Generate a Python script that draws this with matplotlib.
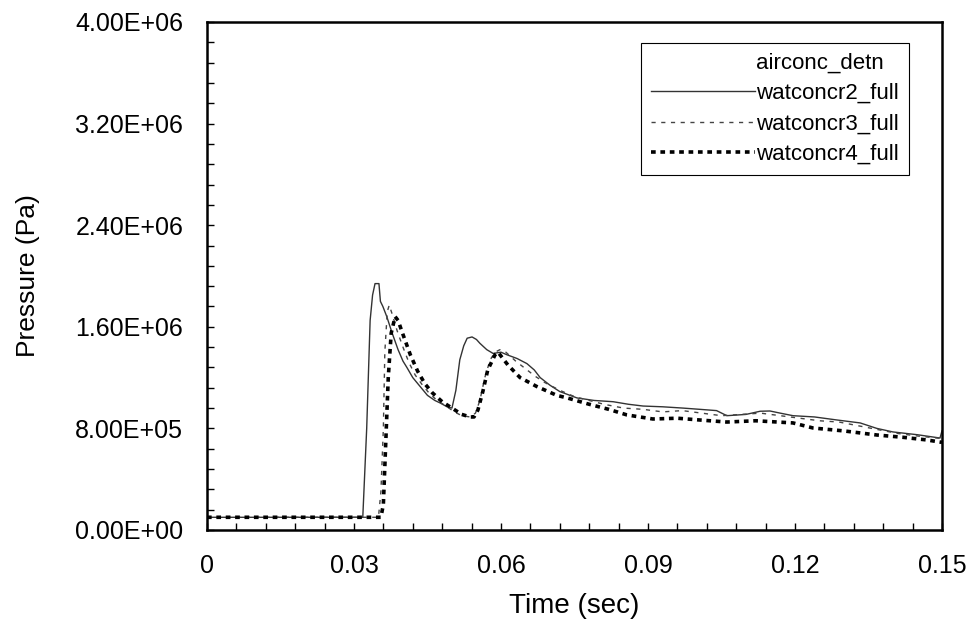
import numpy as np
import matplotlib
matplotlib.use('Agg')
import matplotlib.pyplot as plt
from matplotlib.ticker import MultipleLocator, FuncFormatter

plt.rcParams['font.family'] = ['Liberation Sans', 'DejaVu Sans']

# watconcr2_full (solid)
t2 = [0, 0.0318, 0.0326, 0.0333, 0.0338, 0.0343, 0.0351, 0.0354, 0.0359, 0.0367,
      0.0378, 0.0390, 0.0400, 0.0408, 0.0420, 0.0435, 0.0450, 0.0465, 0.0476, 0.0490,
      0.0500, 0.0508, 0.0516, 0.0524, 0.0531, 0.0541, 0.0550, 0.0557, 0.0571, 0.0584,
      0.0600, 0.0612, 0.0633, 0.0653, 0.0668, 0.0680, 0.0700, 0.0720, 0.0755, 0.0790,
      0.0829, 0.0860, 0.0890, 0.0930, 0.0971, 0.1006, 0.1040, 0.1061, 0.1100, 0.1129,
      0.1149, 0.1170, 0.1196, 0.1240, 0.1286, 0.1333, 0.1367, 0.1400, 0.1450, 0.1496,
      0.1500]
p2 = [1.0e5, 1.0e5, 8.0e5, 1.65e6, 1.85e6, 1.94e6, 1.94e6, 1.80e6, 1.76e6, 1.68e6,
      1.55e6, 1.42e6, 1.33e6, 1.28e6, 1.20e6, 1.13e6, 1.06e6, 1.02e6, 1.00e6, 0.97e6,
      0.96e6, 1.10e6, 1.34e6, 1.45e6, 1.51e6, 1.52e6, 1.50e6, 1.47e6, 1.42e6, 1.39e6,
      1.40e6, 1.38e6, 1.35e6, 1.31e6, 1.26e6, 1.20e6, 1.14e6, 1.09e6, 1.04e6, 1.02e6,
      1.01e6, 0.99e6, 0.976e6, 0.97e6, 0.96e6, 0.95e6, 0.94e6, 0.90e6, 0.91e6, 0.935e6,
      0.937e6, 0.92e6, 0.90e6, 0.89e6, 0.866e6, 0.843e6, 0.80e6, 0.772e6, 0.75e6, 0.724e6,
      0.78e6]

# watconcr3_full (thin dashed)
t3 = [0, 0.0350, 0.0355, 0.0360, 0.0363, 0.0368, 0.0372, 0.0378, 0.0388, 0.0400,
      0.0412, 0.0425, 0.0440, 0.0455, 0.0470, 0.0490, 0.0505, 0.0520, 0.0537, 0.0548,
      0.0557, 0.0567, 0.0578, 0.0588, 0.0598, 0.0610, 0.0630, 0.0650, 0.0670, 0.0690,
      0.0720, 0.0750, 0.0780, 0.0810, 0.0850, 0.0890, 0.0930, 0.0970, 0.1010, 0.1050,
      0.1090, 0.1130, 0.1170, 0.1210, 0.1250, 0.1290, 0.1330, 0.1370, 0.1410, 0.1450,
      0.1500]
p3 = [1.0e5, 1.0e5, 3.0e5, 8.0e5, 1.40e6, 1.72e6, 1.77e6, 1.70e6, 1.57e6, 1.44e6,
      1.32e6, 1.22e6, 1.14e6, 1.07e6, 1.02e6, 0.97e6, 0.93e6, 0.90e6, 0.89e6, 0.92e6,
      1.02e6, 1.20e6, 1.34e6, 1.40e6, 1.42e6, 1.40e6, 1.33e6, 1.27e6, 1.21e6, 1.16e6,
      1.10e6, 1.05e6, 1.02e6, 0.99e6, 0.96e6, 0.95e6, 0.93e6, 0.94e6, 0.92e6, 0.90e6,
      0.91e6, 0.92e6, 0.90e6, 0.88e6, 0.86e6, 0.85e6, 0.82e6, 0.79e6, 0.76e6, 0.74e6,
      0.72e6]

# watconcr4_full (thick dashed)
t4 = [0, 0.0355, 0.0360, 0.0365, 0.0370, 0.0376, 0.0384, 0.0390, 0.0400, 0.0415,
      0.0430, 0.0445, 0.0460, 0.0480, 0.0500, 0.0520, 0.0537, 0.0545, 0.0553, 0.0563,
      0.0573, 0.0588, 0.0594, 0.0614, 0.0639, 0.0673, 0.0714, 0.0735, 0.0780, 0.0820,
      0.0857, 0.0910, 0.0960, 0.1006, 0.1061, 0.1120, 0.1196, 0.1237, 0.1300, 0.1367,
      0.1420, 0.1469, 0.1500]
p4 = [1.0e5, 1.0e5, 2.0e5, 7.0e5, 1.20e6, 1.55e6, 1.68e6, 1.65e6, 1.54e6, 1.38e6,
      1.25e6, 1.15e6, 1.08e6, 1.01e6, 0.96e6, 0.91e6, 0.89e6, 0.89e6, 0.945e6, 1.09e6,
      1.26e6, 1.38e6, 1.40e6, 1.30e6, 1.20e6, 1.13e6, 1.06e6, 1.04e6, 0.99e6, 0.95e6,
      0.906e6, 0.874e6, 0.88e6, 0.866e6, 0.850e6, 0.86e6, 0.843e6, 0.803e6, 0.78e6, 0.748e6,
      0.73e6, 0.709e6, 0.69e6]

fig = plt.figure(figsize=(9.73, 6.23), dpi=100)
ax = fig.add_axes([0.2127, 0.1493, 0.7554, 0.8154])

ax.plot([], [], linestyle='none', label='airconc_detn')
ax.plot(t2, p2, color='#333333', lw=1.0, label='watconcr2_full')
ax.plot(t3, p3, color='#444444', lw=1.0, linestyle=(0, (3, 4)), label='watconcr3_full')
ax.plot(t4, p4, color='black', lw=2.6, linestyle=(0, (1.3, 1.3)), label='watconcr4_full')

ax.set_xlim(0, 0.15)
ax.set_ylim(0, 4.0e6)
ax.xaxis.set_major_locator(MultipleLocator(0.03))
ax.xaxis.set_minor_locator(MultipleLocator(0.006))
ax.yaxis.set_major_locator(MultipleLocator(8.0e5))
ax.yaxis.set_minor_locator(MultipleLocator(1.6e5))
ax.xaxis.set_major_formatter(FuncFormatter(lambda v, _: '0' if abs(v) < 1e-9 else f'{v:.2f}'))
ax.yaxis.set_major_formatter(FuncFormatter(lambda v, _: f'{v:.2E}'))

ax.tick_params(which='both', direction='in', labelsize=18, pad=17, width=1)
ax.tick_params(which='major', length=5)
ax.tick_params(which='minor', length=5)
for s in ax.spines.values():
    s.set_linewidth(1.8)

ax.set_xlabel('Time (sec)', fontsize=20, labelpad=11)
ax.set_ylabel('Pressure (Pa)', fontsize=19, labelpad=25)

leg = ax.legend(loc='upper right', bbox_to_anchor=(0.955, 0.959), borderaxespad=0,
                fontsize=16, handlelength=4.7, handletextpad=0.05, labelspacing=0.42,
                borderpad=0.45, fancybox=False, framealpha=1, edgecolor='black')
leg.get_frame().set_linewidth(0.8)

fig.savefig('out.png', dpi=100)
